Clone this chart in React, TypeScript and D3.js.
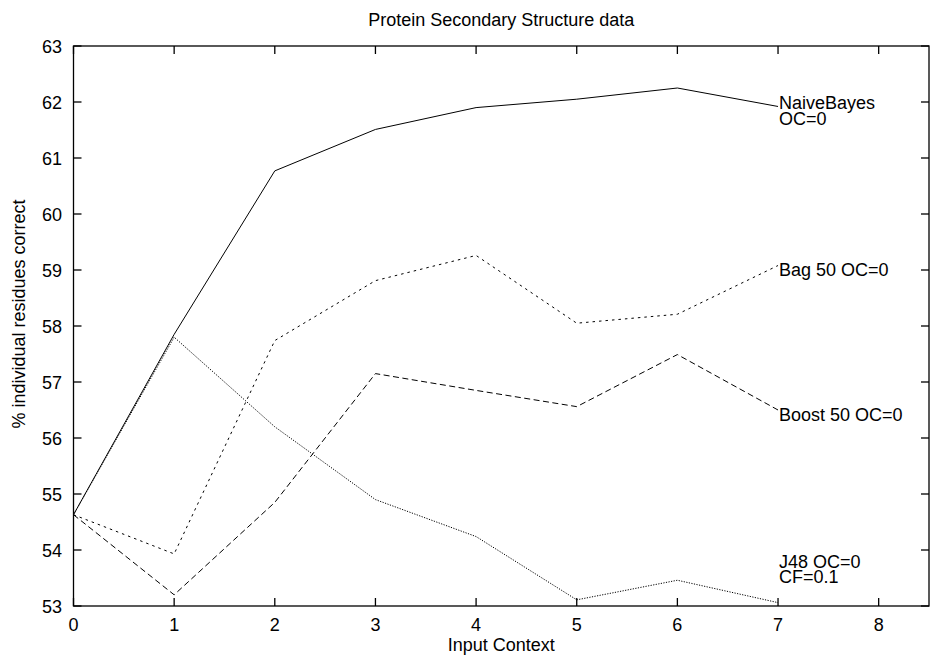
import React from 'react';
import * as d3 from 'd3';

const contexts = [0, 1, 2, 3, 4, 5, 6, 7];
const naiveBayes = [54.63, 57.85, 60.77, 61.51, 61.9, 62.05, 62.25, 61.92];
const bag50 = [54.63, 53.93, 57.74, 58.81, 59.26, 58.05, 58.21, 59.08];
const boost50 = [54.63, 53.2, 54.85, 57.15, 56.85, 56.56, 57.49, 56.5];
const j48 = [54.63, 57.8, 56.2, 54.9, 54.24, 53.11, 53.46, 53.06];

const seriesNames = ['NaiveBayes', 'Bag 50', 'Boost 50', 'J48'];
const seriesLabels = [['NaiveBayes', 'OC=0'], ['Bag 50 OC=0'], ['Boost 50 OC=0'], ['J48 OC=0', 'CF=0.1']];
const labelAt = [61.92, 59.08, 56.5, 53.73];
const dashes = ['none', '2.5,4', '6,3.5', '1.2,1.4'];

const xTicks = [0, 1, 2, 3, 4, 5, 6, 7, 8];
const yTicks = [53, 54, 55, 56, 57, 58, 59, 60, 61, 62, 63];

const W = 930;
const H = 667;
const M = { left: 73.5, right: 1, top: 46, bottom: 61 };
const FONT = 'Liberation Sans, Arial, Helvetica, sans-serif';

const App = () => {
  const x = d3.scaleLinear().domain([0, 8.5]).range([M.left, W - M.right]);
  const y = d3.scaleLinear().domain([53, 63]).range([H - M.bottom, M.top]);
  const line = d3
    .line<number>()
    .x((d, i) => x(contexts[i]))
    .y(d => y(d));
  const all = [naiveBayes, bag50, boost50, j48];
  const x0 = M.left;
  const x1 = W - M.right;
  const y0 = H - M.bottom;
  const y1 = M.top;
  const tick = 8;

  return (
    <svg
      width={W}
      height={H}
      style={{ position: 'absolute', left: 0, top: 0, background: '#fff' }}
      fontFamily={FONT}
      fontSize={18}
    >
      <rect x={0} y={0} width={W} height={H} fill="#fff" />
      <text x={(x0 + x1) / 2} y={26} textAnchor="middle">
        Protein Secondary Structure data
      </text>

      {/* ticks, mirrored on all four sides */}
      <g stroke="#000" strokeWidth={1.3}>
        {xTicks.map(t => (
          <g key={'x' + t}>
            <line x1={x(t)} x2={x(t)} y1={y0} y2={y0 - tick} />
            <line x1={x(t)} x2={x(t)} y1={y1} y2={y1 + tick} />
          </g>
        ))}
        {yTicks.map(t => (
          <g key={'y' + t}>
            <line x1={x0} x2={x0 + tick} y1={y(t)} y2={y(t)} />
            <line x1={x1} x2={x1 - tick} y1={y(t)} y2={y(t)} />
          </g>
        ))}
      </g>

      {xTicks.map(t => (
        <text key={'xl' + t} x={x(t)} y={y0 + 25} textAnchor="middle">
          {t}
        </text>
      ))}
      {yTicks.map(t => (
        <text key={'yl' + t} x={62} y={y(t) + 6.5} textAnchor="end">
          {t}
        </text>
      ))}

      <text x={(x0 + x1) / 2} y={651} textAnchor="middle">
        Input Context
      </text>
      <text
        transform={`translate(25, ${(y0 + y1) / 2 - 12}) rotate(-90)`}
        textAnchor="middle"
      >
        % individual residues correct
      </text>

      {all.map((vals, i) => (
        <path
          key={seriesNames[i]}
          d={line(vals) || ''}
          fill="none"
          stroke="#000"
          strokeWidth={1}
          strokeDasharray={dashes[i]}
        />
      ))}

      {seriesLabels.map((lines, i) => {
        const base = y(labelAt[i]) + 10.5 - ((lines.length - 1) * 15.7) / 2;
        return (
          <text key={'lab' + i} x={x(7) + 1} y={base}>
            {lines.map((s, j) => (
              <tspan key={j} x={x(7) + 1} y={base + j * 15.7}>
                {s}
              </tspan>
            ))}
          </text>
        );
      })}

      <rect
        x={x0}
        y={y1}
        width={x1 - x0}
        height={y0 - y1}
        fill="none"
        stroke="#000"
        strokeWidth={1.3}
      />
    </svg>
  );
};

export default App;
